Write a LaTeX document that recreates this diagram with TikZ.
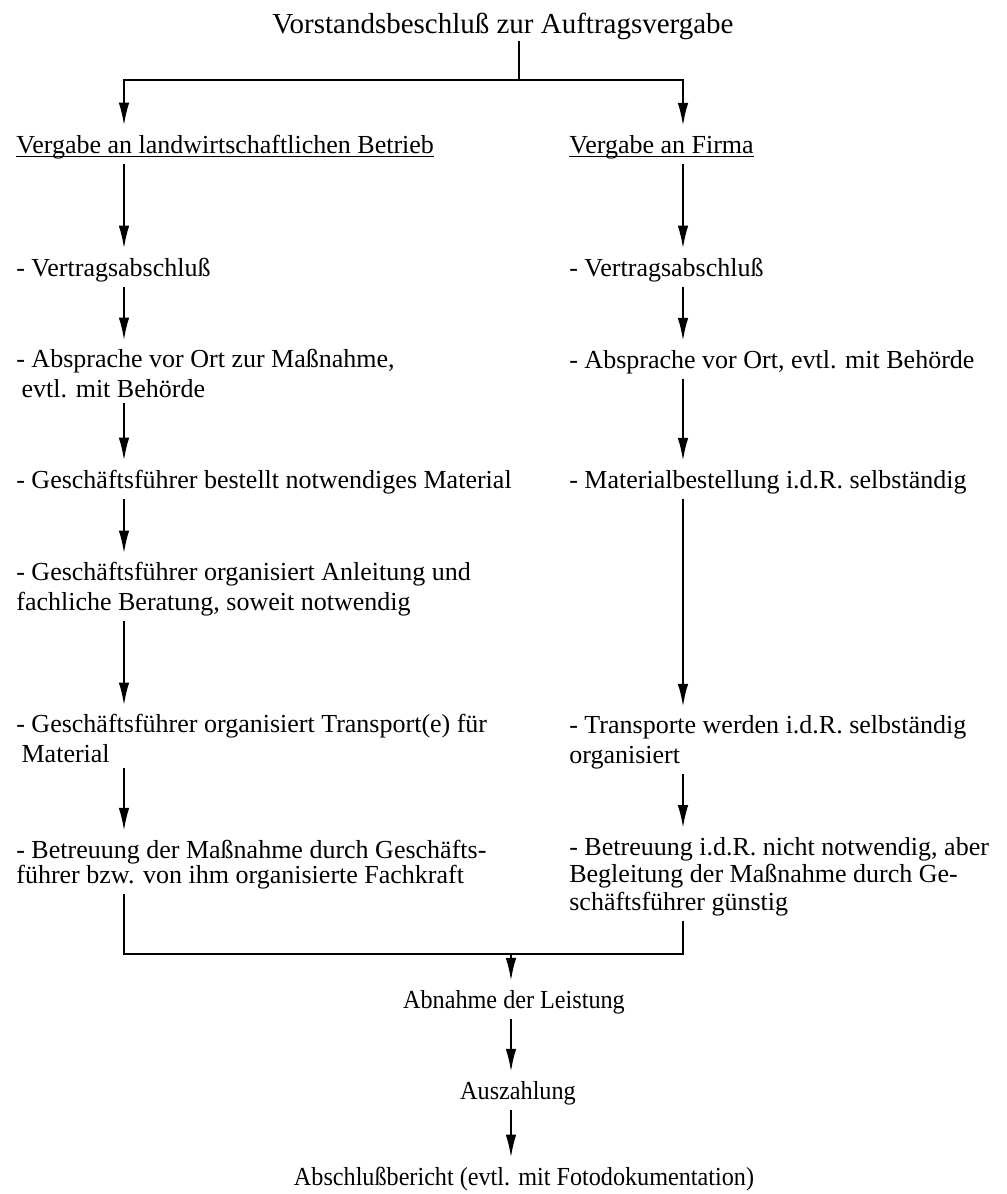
\documentclass[tikz,border=0pt]{standalone}
\usepackage{fontspec}
\setmainfont{Liberation Serif}
\newfontfamily\narrowserif[FakeStretch=0.93]{Liberation Serif}
\usepackage{tikz}
\usetikzlibrary{arrows.meta}

\tikzset{
  link/.style={line width=1.2pt},
  linkarr/.style={link, shorten >=2pt, -{Latex[length=13pt,width=6pt]}},
  entry/.style={anchor=base west, inner xsep=0pt, inner ysep=3pt, align=left,
                font=\fontsize{14.8}{16.6}\selectfont},
  result/.style={anchor=base, inner xsep=0pt, inner ysep=3pt,
                 font=\narrowserif\fontsize{14.8}{16.6}\selectfont},
  head/.style={anchor=base, inner sep=1pt, font=\fontsize{16.5}{19}\selectfont}
}

\begin{document}
\begin{tikzpicture}[x=0.02cm, y=-0.02cm]
  \fill[white] (0,0) rectangle (1007,1194);
  \useasboundingbox (0,0) rectangle (1007,1194);

  % Beschluss und Verzweigung
  \node[head] (beschluss) at (503,33) {Vorstandsbeschluß zur Auftragsvergabe};
  \coordinate (split) at (519,80);
  \coordinate (colL) at (124,0);
  \coordinate (colR) at (683,0);
  \coordinate (colM) at (511,0);
  \coordinate (merge) at (511,954);

  % linke Spalte (y = Grundlinie der letzten Zeile)
  \node[entry] (vergabeL) at (16,153) {Vergabe an landwirtschaftlichen Betrieb};
  \node[entry] (vertragL) at (16,276) {- Vertragsabschluß};
  \node[entry] (abspracheL) at (16,397) {- Absprache vor Ort zur Maßnahme,\\\hspace{3pt}evtl. mit Behörde};
  \node[entry] (materialL) at (16,488) {- Geschäftsführer bestellt notwendiges Material};
  \node[entry] (anleitungL) at (16,610) {- Geschäftsführer organisiert Anleitung und\\fachliche Beratung, soweit notwendig};
  \node[entry] (transportL) at (16,762) {- Geschäftsführer organisiert Transport(e) für\\\hspace{3pt}Material};
  \node[entry] (betreuungL) at (16,883) {- Betreuung der Maßnahme durch Geschäfts-\\[-2.5pt]führer bzw. von ihm organisierte Fachkraft};

  % rechte Spalte
  \node[entry] (vergabeR) at (569,153) {Vergabe an Firma};
  \node[entry] (vertragR) at (569,276) {- Vertragsabschluß};
  \node[entry] (abspracheR) at (569,368) {- Absprache vor Ort, evtl. mit Behörde};
  \node[entry] (materialR) at (569,488) {- Materialbestellung i.d.R. selbständig};
  \node[entry] (transportR) at (569,763) {- Transporte werden i.d.R. selbständig\\organisiert};
  \node[entry] (betreuungR) at (569,910) {- Betreuung i.d.R. nicht notwendig, aber\\[-1pt]Begleitung der Maßnahme durch Ge-\\[-1pt]schäftsführer günstig};

  % Abschluss
  \node[result] (abnahme) at (514,1008) {Abnahme der Leistung};
  \node[result] (auszahlung) at (518,1099) {Auszahlung};
  \node[result] (bericht) at (524,1185) {Abschlußbericht (evtl. mit Fotodokumentation)};

  % Unterstreichungen
  \draw[line width=0.6pt] ([yshift=-2pt]vergabeL.base west) -- ([yshift=-2pt]vergabeL.base east);
  \draw[line width=0.6pt] ([yshift=-2pt]vergabeR.base west) -- ([yshift=-2pt]vergabeR.base east);

  % Pfeile oben
  \draw[link] (beschluss.south -| split) -- (split);
  \draw[linkarr] (split) -| (vergabeL.north -| colL);
  \draw[linkarr] (split) -| (vergabeR.north -| colR);

  % Pfeile links
  \draw[linkarr] (vergabeL.south -| colL) -- (vertragL.north -| colL);
  \draw[linkarr] (vertragL.south -| colL) -- (abspracheL.north -| colL);
  \draw[linkarr] (abspracheL.south -| colL) -- (materialL.north -| colL);
  \draw[linkarr] (materialL.south -| colL) -- (anleitungL.north -| colL);
  \draw[linkarr] (anleitungL.south -| colL) -- (transportL.north -| colL);
  \draw[linkarr] (transportL.south -| colL) -- (betreuungL.north -| colL);

  % Pfeile rechts
  \draw[linkarr] (vergabeR.south -| colR) -- (vertragR.north -| colR);
  \draw[linkarr] (vertragR.south -| colR) -- (abspracheR.north -| colR);
  \draw[linkarr] (abspracheR.south -| colR) -- (materialR.north -| colR);
  \draw[linkarr] (materialR.south -| colR) -- (transportR.north -| colR);
  \draw[linkarr] (transportR.south -| colR) -- (betreuungR.north -| colR);

  % Zusammenfuehrung
  \draw[link] (betreuungL.south -| colL) |- (merge) -| (betreuungR.south -| colR);
  \draw[linkarr] (merge) -- (abnahme.north -| colM);
  \draw[linkarr] (abnahme.south -| colM) -- (auszahlung.north -| colM);
  \draw[linkarr] (auszahlung.south -| colM) -- (bericht.north -| colM);
\end{tikzpicture}
\end{document}
